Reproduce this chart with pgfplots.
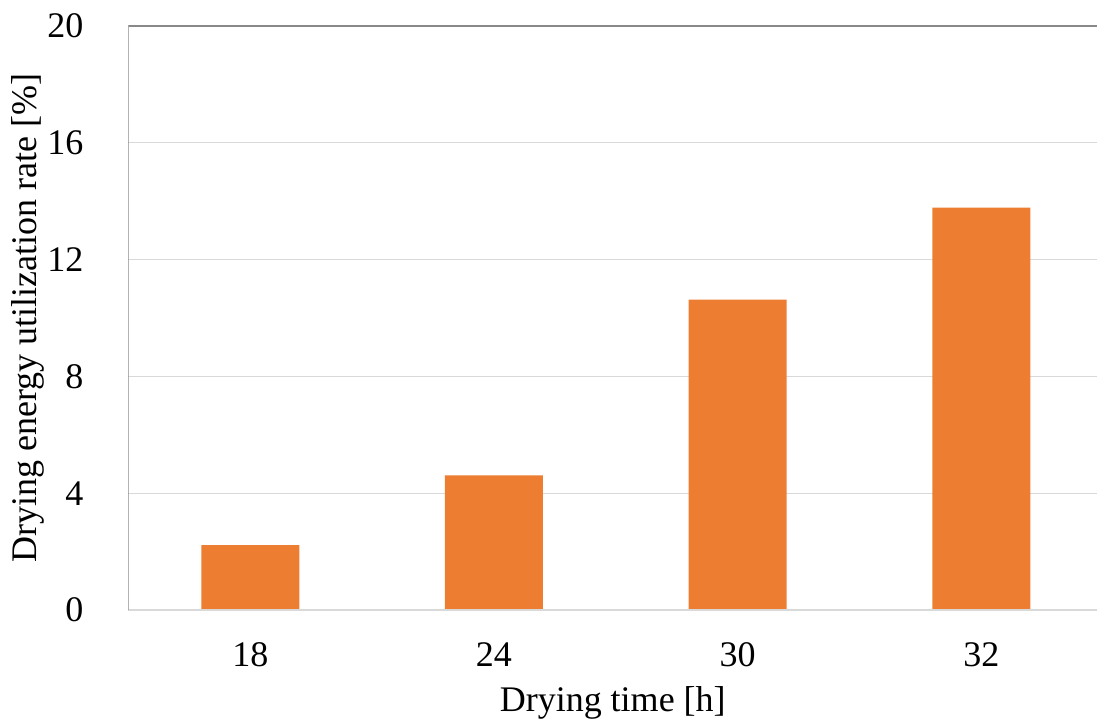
\documentclass[border=0pt]{standalone}
\usepackage{pgfplots}
\pgfplotsset{compat=1.18}
\usepackage{fontspec}
\setmainfont{Liberation Serif}
\definecolor{barorange}{HTML}{ED7D31}
\definecolor{gridgray}{HTML}{D9D9D9}
\definecolor{axisgray}{HTML}{898989}
\begin{document}
\fontsize{36bp}{42bp}\selectfont
\begin{tikzpicture}
\path[use as bounding box] (-128.5bp,-117bp) rectangle (968.5bp,610bp);
\begin{axis}[
  at={(0,0)}, anchor=south west,
  scale only axis, width=968.5bp, height=584bp,
  xmin=-0.5, xmax=3.475, ymin=0, ymax=20,
  ytick={0,4,8,12,16,20},
  xtick={0,1,2,3}, xticklabels={18,24,30,32},
  major tick length=0,
  axis line style={draw=none},
  ymajorgrids, grid style={draw=gridgray, line width=1.2bp},
  /pgf/number format/assume math mode=true,
  tick label style={font=\fontsize{36bp}{42bp}\selectfont},
  label style={font=\fontsize{36bp}{42bp}\selectfont},
  yticklabel style={anchor=east, inner sep=0pt, xshift=-45bp},
  xticklabel style={anchor=north, inner sep=0pt, yshift=-32bp},
  xlabel={Drying time [h]},
  ylabel={Drying energy utilization rate [\%]},
  xlabel style={at={(rel axis cs:0.5,-0.159)}, anchor=center},
  ylabel style={at={(rel axis cs:-0.104,0.5)}, anchor=center},
  ybar, bar width=98bp,
]
\addplot[fill=barorange, draw=none] coordinates {(0,2.22) (1,4.61) (2,10.63) (3,13.78)};
\draw[gridgray, line width=1.2bp] (rel axis cs:0,0) -- (rel axis cs:1,0);
\draw[axisgray, line width=1.3bp] (rel axis cs:0,0) -- (rel axis cs:0,1) -- (rel axis cs:1,1);
\end{axis}
\end{tikzpicture}
\end{document}
